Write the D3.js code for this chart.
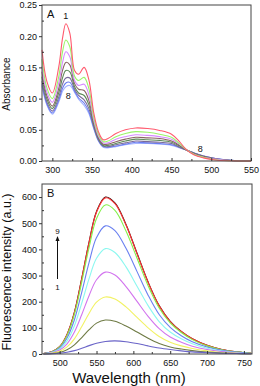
<!DOCTYPE html>
<html>
<head>
<meta charset="utf-8">
<script src="https://cdn.jsdelivr.net/npm/d3@7"></script>
<style>
  body { margin: 0; background: #fff; }
  svg text { font-family: "Liberation Sans", Arial, sans-serif; fill: #111; }
  .axis path, .axis line { stroke: #333; stroke-width: 1; }
</style>
</head>
<body>
<div id="chart"></div>
<script>
// panel A: absorbance spectra, 8 curves
var absWl = [287, 293, 300, 308, 313, 317, 322, 328, 333, 340, 346, 352, 358, 364, 370, 380, 392, 405, 420, 435, 450, 460, 468, 478, 490, 505, 525, 550];
var abs1 = [.178, .128, .109, .150, .198, .220, .205, .145, .139, .150, .130, .078, .047, .034, .036, .044, .050, .053, .052, .049, .043, .031, .019, .010, .005, .0015, .0003, 0];
var abs2 = [.163, .118, .100, .135, .176, .194, .183, .136, .129, .134, .116, .071, .043, .031, .032, .039, .044, .047, .046, .043, .038, .028, .019, .011, .006, .002, .0005, 0];
var abs3 = [.152, .111, .094, .125, .159, .175, .167, .129, .121, .123, .106, .066, .040, .029, .029, .035, .039, .042, .041, .039, .035, .027, .019, .011, .006, .003, .0006, 0];
var abs4 = [.143, .105, .088, .116, .146, .158, .154, .124, .115, .113, .097, .062, .038, .027, .027, .031, .035, .038, .037, .036, .032, .025, .018, .012, .007, .003, .0007, 0];
var abs5 = [.135, .100, .084, .109, .134, .145, .143, .119, .109, .105, .090, .059, .036, .025, .025, .028, .032, .035, .034, .033, .030, .024, .018, .012, .007, .003, .0008, 0];
var abs6 = [.128, .095, .080, .102, .124, .133, .133, .115, .105, .098, .084, .056, .034, .024, .023, .026, .029, .032, .031, .030, .028, .022, .018, .013, .008, .004, .0009, 0];
var abs7 = [.123, .092, .077, .097, .117, .125, .126, .112, .101, .093, .079, .054, .033, .023, .022, .024, .027, .030, .029, .028, .026, .022, .018, .013, .008, .004, .001, 0];
var abs8 = [.120, .090, .075, .094, .112, .119, .121, .110, .099, .089, .076, .052, .032, .022, .021, .023, .026, .028, .028, .027, .025, .021, .018, .013, .008, .004, .001, 0];
var absSeries = [abs1, abs2, abs3, abs4, abs5, abs6, abs7, abs8];
var absColors = ["#ff5a6e", "#9cf56a", "#d68cff", "#8a6464", "#5e8a5a", "#7a6a9a", "#6a7cf0", "#a4b4ff"];
var absXTicks = [300, 350, 400, 450, 500, 550];
var absYTicks = [0, 0.05, 0.10, 0.15, 0.20, 0.25];

// panel B: fluorescence spectra, 9 curves
var flWl = [478, 490, 500, 510, 520, 530, 540, 550, 562, 575, 590, 605, 620, 635, 650, 665, 680, 700, 720, 740, 760];
var fl1 = [0, 1, 3, 7, 13, 22, 32, 41, 48, 50, 47, 40, 31, 23, 17, 12, 8, 5, 3, 2, 1];
var fl2 = [0, 2, 6, 16, 35, 63, 93, 118, 130, 125, 107, 84, 60, 40, 27, 19, 13, 7, 4, 2, 1];
var fl3 = [1, 4, 10, 27, 58, 105, 156, 198, 218, 210, 180, 140, 100, 67, 45, 31, 21, 12, 6, 3, 1];
var fl4 = [1, 5, 15, 39, 84, 151, 224, 284, 313, 302, 258, 201, 144, 97, 65, 45, 30, 17, 9, 4, 2];
var fl5 = [1, 7, 19, 50, 108, 195, 289, 366, 403, 388, 333, 259, 185, 124, 84, 58, 39, 22, 11, 5, 2];
var fl6 = [2, 8, 23, 61, 131, 237, 351, 445, 490, 472, 404, 315, 225, 151, 102, 70, 47, 27, 14, 7, 2];
var fl7 = [2, 9, 27, 71, 152, 276, 409, 518, 570, 549, 470, 366, 261, 176, 119, 82, 55, 31, 16, 8, 3];
var fl8 = [2, 10, 28, 75, 159, 289, 428, 542, 597, 575, 493, 383, 274, 184, 124, 86, 58, 33, 17, 8, 3];
var fl9 = [2, 10, 28, 75, 160, 290, 430, 545, 600, 578, 495, 385, 275, 185, 125, 86, 58, 33, 17, 8, 3];
var flSeries = [fl1, fl2, fl3, fl4, fl5, fl6, fl7, fl8, fl9];
var flColors = ["#6a64c8", "#6e7a44", "#f2f264", "#d274ee", "#8cf8f0", "#6a80f0", "#84f04a", "#ff3434", "#3a1010"];
var flXTicks = [500, 550, 600, 650, 700, 750];
var flYTicks = [0, 100, 200, 300, 400, 500, 600];

var width = 260, height = 386;
var svg = d3.select("#chart").append("svg")
    .attr("width", width)
    .attr("height", height);

function panel(opt) {
    var x = d3.scaleLinear().domain(opt.xDomain).range([opt.left, opt.right]);
    var y = d3.scaleLinear().domain(opt.yDomain).range([opt.bottom, opt.top]);
    var g = svg.append("g");

    var line = d3.line()
        .x(function (d) { return x(d[0]); })
        .y(function (d) { return y(d[1]); })
        .curve(d3.curveCatmullRom.alpha(0.5));

    // draw last series first so series 1 ends up on top like the original
    opt.series.slice().reverse().forEach(function (s, i) {
        var k = opt.series.length - 1 - i;
        g.append("path")
            .datum(opt.wl.map(function (w, j) { return [w, s[j]]; }))
            .attr("fill", "none")
            .attr("stroke", opt.colors[k])
            .attr("stroke-width", 1.1)
            .attr("d", line);
    });

    // frame
    g.append("rect")
        .attr("x", opt.left).attr("y", opt.top)
        .attr("width", opt.right - opt.left).attr("height", opt.bottom - opt.top)
        .attr("fill", "none").attr("stroke", "#444").attr("stroke-width", 1);

    // minor ticks
    var xMinor = [], yMinor = [];
    for (var i = 0; i < opt.xTicks.length; i++) {
        var v = opt.xTicks[i] - opt.xStep / 2;
        if (v > opt.xDomain[0]) xMinor.push(v);
    }
    xMinor.push(opt.xTicks[opt.xTicks.length - 1] + opt.xStep / 2);
    xMinor = xMinor.filter(function (v) { return v < opt.xDomain[1]; });
    for (var i = 0; i < opt.yTicks.length; i++) {
        var v = opt.yTicks[i] + opt.yStep / 2;
        if (v < opt.yDomain[1]) yMinor.push(v);
    }

    g.append("g").attr("class", "axis")
        .attr("transform", "translate(0," + opt.bottom + ")")
        .call(d3.axisBottom(x).tickValues(xMinor).tickSize(-2).tickFormat(""))
        .call(function (a) { a.select(".domain").remove(); });
    g.append("g").attr("class", "axis")
        .attr("transform", "translate(" + opt.left + ",0)")
        .call(d3.axisLeft(y).tickValues(yMinor).tickSize(-2).tickFormat(""))
        .call(function (a) { a.select(".domain").remove(); });

    var xa = g.append("g").attr("class", "axis")
        .attr("transform", "translate(0," + opt.bottom + ")")
        .call(d3.axisBottom(x).tickValues(opt.xTicks).tickSize(-3).tickPadding(6).tickFormat(d3.format("d")));
    xa.select(".domain").remove();
    xa.selectAll("text").attr("font-size", "9px").attr("dy", "0.71em");

    var ya = g.append("g").attr("class", "axis")
        .attr("transform", "translate(" + opt.left + ",0)")
        .call(d3.axisLeft(y).tickValues(opt.yTicks).tickSize(3).tickPadding(2).tickFormat(opt.yFormat));
    ya.select(".domain").remove();
    ya.selectAll("text").attr("font-size", "9px");

    g.append("text")
        .attr("x", opt.left + 5).attr("y", opt.top + 13)
        .attr("font-size", "11px")
        .text(opt.name);

    return { x: x, y: y, g: g };
}

var pA = panel({
    name: "A", wl: absWl, series: absSeries, colors: absColors,
    xDomain: [287, 550], yDomain: [0, 0.25],
    left: 42, right: 251, top: 5, bottom: 161,
    xTicks: absXTicks, yTicks: absYTicks, xStep: 50, yStep: 0.05,
    yFormat: d3.format(".2f")
});

var pB = panel({
    name: "B", wl: flWl, series: flSeries, colors: flColors,
    xDomain: [476, 761], yDomain: [0, 650],
    left: 42, right: 252, top: 184, bottom: 354,
    xTicks: flXTicks, yTicks: flYTicks, xStep: 50, yStep: 100,
    yFormat: d3.format("d")
});

// curve numbers in A
pA.g.append("text").attr("x", pA.x(317)).attr("y", pA.y(0.228)).attr("text-anchor", "middle").attr("font-size", "9px").text("1");
pA.g.append("text").attr("x", pA.x(320)).attr("y", pA.y(0.099)).attr("text-anchor", "middle").attr("font-size", "9px").text("8");
pA.g.append("text").attr("x", pA.x(486)).attr("y", pA.y(0.014)).attr("text-anchor", "middle").attr("font-size", "9px").text("8");

// arrow 1 -> 9 in B
svg.append("defs").append("marker")
    .attr("id", "arrow")
    .attr("viewBox", "0 -5 10 10")
    .attr("refX", 8).attr("refY", 0)
    .attr("markerWidth", 5).attr("markerHeight", 5)
    .attr("orient", "auto")
    .append("path").attr("d", "M0,-4L10,0L0,4").attr("fill", "#111");
pB.g.append("line")
    .attr("x1", 57.5).attr("y1", 279).attr("x2", 57.5).attr("y2", 237)
    .attr("stroke", "#111").attr("stroke-width", 1)
    .attr("marker-end", "url(#arrow)");
pB.g.append("text").attr("x", 57.5).attr("y", 234).attr("text-anchor", "middle").attr("font-size", "8px").text("9");
pB.g.append("text").attr("x", 57.5).attr("y", 290).attr("text-anchor", "middle").attr("font-size", "8px").text("1");

// axis titles
svg.append("text")
    .attr("transform", "translate(9.5,84) rotate(-90)")
    .attr("text-anchor", "middle").attr("font-size", "10px")
    .text("Absorbance");
svg.append("text")
    .attr("transform", "translate(10.5,272) rotate(-90)")
    .attr("text-anchor", "middle").attr("font-size", "12.5px")
    .text("Fluorescence intensity (a.u.)");
svg.append("text")
    .attr("x", 129).attr("y", 383)
    .attr("text-anchor", "middle").attr("font-size", "15px")
    .text("Wavelength (nm)");
</script>
</body>
</html>
